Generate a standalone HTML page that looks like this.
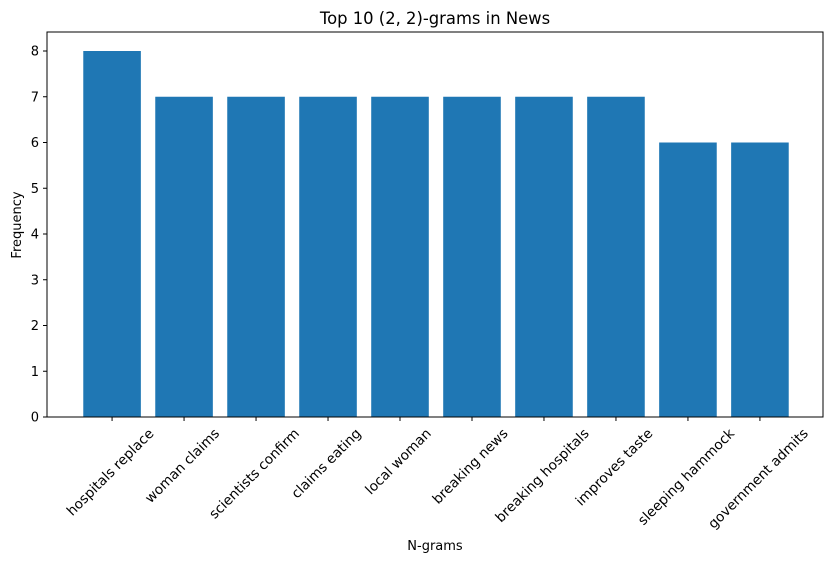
<!DOCTYPE html>
<html><head><meta charset="utf-8"><style>body{margin:0;background:#fff}svg{display:block;font-family:"DejaVu Sans","Liberation Sans",sans-serif}</style></head>
<body>
<svg id="chart" width="833" height="563">
<text x="435" y="24" text-anchor="middle" font-size="16.4">Top 10 (2, 2)-grams in News</text>
<text x="435" y="550" text-anchor="middle" font-size="13">N-grams</text>
<text transform="translate(21,225) rotate(-90)" text-anchor="middle" font-size="13">Frequency</text>
<g id="bars"></g><g id="yticks"></g><g id="xticks"></g>
<rect x="47" y="32" width="776" height="385" fill="none" stroke="#000" stroke-width="1"/>
</svg>
<script>
const categories=["hospitals replace","woman claims","scientists confirm","claims eating","local woman","breaking news","breaking hospitals","improves taste","sleeping hammock","government admits"];
const values=[8,7,7,7,7,7,7,7,6,6];
const yTicks=[0,1,2,3,4,5,6,7,8];
const L=47,R=823,T=32,B=417;
const y=v=>B-v*(B-51)/8;
const xs=(R-L)/(categories.length-1+0.8+0.98);
const x=i=>L+1+(i+0.4+0.49)*xs;
const NS="http://www.w3.org/2000/svg";
function mk(t,a,p){const e=document.createElementNS(NS,t);for(const k in a)e.setAttribute(k,a[k]);p.appendChild(e);return e;}
const gb=document.getElementById('bars'),gy=document.getElementById('yticks'),gx=document.getElementById('xticks');
values.forEach((v,i)=>{
 const r=mk('rect',{x:x(i)-0.4*xs,y:y(v),width:0.8*xs,height:B-y(v),fill:'#1f77b4'},gb);
 
 
});
yTicks.forEach(t=>{
 mk('line',{x1:L-4,x2:L,y1:y(t),y2:y(t),stroke:'#000'},gy);
 const tx=mk('text',{x:L-8,y:y(t)+4.5,'text-anchor':'end','font-size':13},gy);tx.textContent=t;
 
 
});
categories.forEach((c,i)=>{
 const cx=x(i);
 mk('line',{x1:cx,x2:cx,y1:B,y2:B+4,stroke:'#000'},gx);
 const tx=mk('text',{'text-anchor':'middle','font-size':13.7},gx);tx.textContent=c;
 
 
 const w=tx.getComputedTextLength(),h=13.7;
 const bh=(w+h)*0.7071;
 const cy=B+9+bh/2;
 tx.setAttribute('transform',`translate(${cx-2},${cy}) rotate(-45) translate(0,${h*0.35})`);
});
</script>
</body></html>
